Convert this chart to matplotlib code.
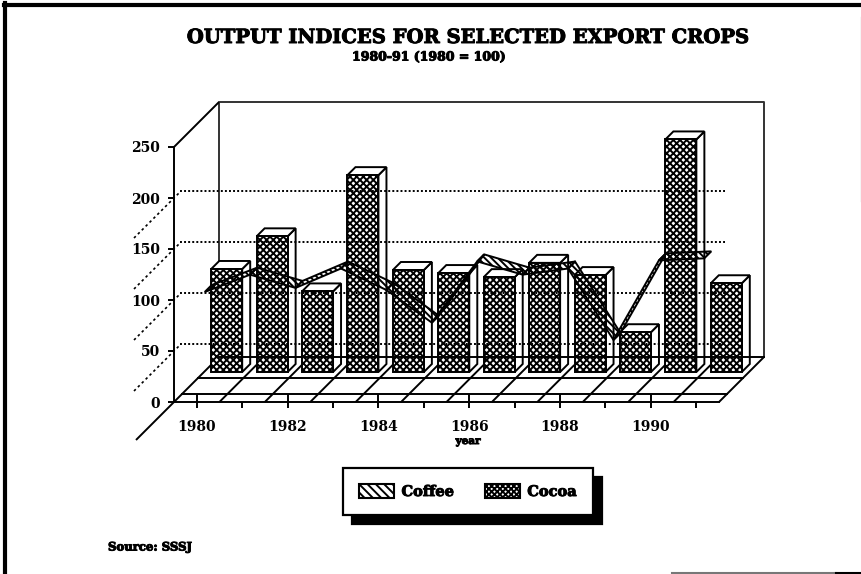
import numpy as np
import matplotlib
matplotlib.use('Agg')
import matplotlib.pyplot as plt
import matplotlib.patheffects as pe
from matplotlib.patches import Patch
from matplotlib.lines import Line2D

years = [1980, 1981, 1982, 1983, 1984, 1985, 1986, 1987, 1988, 1989, 1990, 1991]
coffee = [100, 117, 104, 123, 102, 70, 130, 117, 123, 53, 131, 133]
cocoa = [101, 133, 79, 193, 100, 97, 93, 107, 95, 39, 228, 87]
yticks = [0, 50, 100, 150, 200, 250]

W, H = 862, 574
# front face of the box in pixels, everything else hangs off this
X0, X1, Y0, Y250 = 174, 719, 402, 147
PX_X = (X1 - X0) / 12
PX_Y = (Y0 - Y250) / 250
WALL = 45
BAR_D = 30
COFFEE_D = 8
TOP_D = 8
RIB_D = 7
LW = 1.4

plt.rcParams['font.family'] = ['DejaVu Serif']
plt.rcParams['font.weight'] = 'bold'
plt.rcParams['hatch.linewidth'] = 1.4

fig = plt.figure(figsize=(W / 100, H / 100), dpi=100)
ax = fig.add_axes([X0 / W, 1 - Y0 / H, (X1 - X0) / W, (Y0 - Y250) / H])
ax.set_xlim(-0.5, 11.5)
ax.set_ylim(0, 250)
ax.patch.set_alpha(0)
heavy = [pe.withStroke(linewidth=0.7, foreground='k')]


def dx(d):
    return d / PX_X


def dy(d):
    return d / PX_Y


def seg(x, v, d0, d1, **kw):
    # line running back into the box, d0 and d1 are depths in px
    ax.plot([x + dx(d0), x + dx(d1)], [v + dy(d0), v + dy(d1)], color='k',
            clip_on=False, solid_capstyle='butt', **kw)


x = np.arange(len(years))
xl, xr = -0.5, 11.5

# back wall
ax.plot([xl + dx(WALL), xl + dx(WALL), xr + dx(WALL), xr + dx(WALL)],
        [dy(WALL), 250 + dy(WALL), 250 + dy(WALL), dy(WALL)],
        color='#333333', lw=LW, clip_on=False, zorder=1)

# floor
for d in [8, 24]:
    ax.plot([xl + dx(d), xr + dx(d)], [dy(d), dy(d)], color='k', lw=LW, clip_on=False, zorder=1)
for b in np.arange(0.5, 11, 1):
    seg(b, 0, 0, 37, lw=LW, zorder=1)
seg(xl, 0, -38, WALL, lw=LW, zorder=1)
seg(xr, 0, 0, WALL, lw=LW, zorder=1)
seg(xl, 250, 0, WALL, lw=LW, zorder=1)

# cocoa bars, side and top faces first
bar_w = 31 / PX_X
base = dy(BAR_D)
bar_x = x + dx(BAR_D)
for bx, val in zip(bar_x, cocoa):
    l, r = bx - bar_w / 2, bx + bar_w / 2
    top = base + val
    ax.fill([r, r + dx(TOP_D), r + dx(TOP_D), r], [base, base + dy(TOP_D), top + dy(TOP_D), top],
            fc='white', ec='k', lw=LW, clip_on=False, zorder=2)
    ax.fill([l, r, r + dx(TOP_D), l + dx(TOP_D)], [top, top, top + dy(TOP_D), top + dy(TOP_D)],
            fc='white', ec='k', lw=LW, clip_on=False, zorder=2)
ax.bar(bar_x, cocoa, width=bar_w, bottom=base, fc='white', ec='k', lw=LW,
       hatch='xxxxx', clip_on=False, zorder=3)

# dotted grid sits over the bars, same for the back floor line
for v in yticks[1:-1]:
    ax.plot([xl + dx(6), xr + dx(6)], [v + dy(7), v + dy(7)], color='k', lw=1.4, ls=(0, (1, 1.1)),
            clip_on=False, zorder=4)
    seg(xl, v, -40, 5, lw=1.2, ls=(0, (1.5, 1.8)), zorder=1)
ax.plot([xl + dx(WALL), xr + dx(WALL)], [dy(WALL), dy(WALL)], color='k', lw=LW, clip_on=False, zorder=4)

# coffee ribbon, left see-through so the bars darken it
rib_x = x + dx(COFFEE_D)
rib_y = np.array(coffee) + dy(COFFEE_D)
for i in range(len(x) - 1):
    ax.fill([rib_x[i], rib_x[i + 1], rib_x[i + 1] + dx(RIB_D), rib_x[i] + dx(RIB_D)],
            [rib_y[i], rib_y[i + 1], rib_y[i + 1] + dy(RIB_D), rib_y[i] + dy(RIB_D)],
            fc='none', ec='k', lw=LW, hatch='\\\\\\\\\\', clip_on=False, zorder=5)

for s in ['top', 'right']:
    ax.spines[s].set_visible(False)
ax.spines['left'].set_linewidth(LW)
ax.spines['bottom'].set_linewidth(LW)
ax.set_yticks(yticks)
ax.set_xticks(x)
ax.set_xticklabels([str(y) if i % 2 == 0 else '' for i, y in enumerate(years)])
ax.tick_params(axis='both', labelsize=10, width=LW, length=4, pad=6)
ax.tick_params(axis='x', pad=9)
ax.vlines(x[::2], 0, dy(8), color='k', lw=LW, zorder=1)
ax.set_xlabel('year', fontsize=7.5, fontweight='bold', path_effects=heavy)
ax.xaxis.set_label_coords((468 - X0) / (X1 - X0), (Y0 - 437) / (Y0 - Y250))

fig.text(468 / W, 1 - 37 / H, 'OUTPUT INDICES FOR SELECTED EXPORT CROPS', ha='center', va='center',
         fontsize=14.05, fontweight='bold', path_effects=heavy)
fig.text(429 / W, 1 - 57 / H, '1980-91 (1980 = 100)', ha='center', va='center', fontsize=9,
         fontweight='bold', path_effects=heavy)
fig.text(108 / W, 1 - 547 / H, 'Source: SSSJ', ha='left', va='center', fontsize=8.4, fontweight='bold',
         path_effects=heavy)

handles = [Patch(fc='white', ec='k', lw=1.5, hatch='\\\\\\\\'), Patch(fc='white', ec='k', lw=1.5, hatch='xxxxxx')]
leg = fig.legend(handles, ['Coffee', 'Cocoa'], loc='center', bbox_to_anchor=(468 / W, 1 - 491.5 / H), ncol=2,
                 fontsize=10.5, fancybox=False, edgecolor='k', framealpha=1, handlelength=2.4,
                 handleheight=1.1, handletextpad=0.5, columnspacing=2.1, borderpad=1.1, borderaxespad=0,
                 shadow={'ox': 6.5, 'oy': -6.5, 'color': 'k', 'alpha': 1})
leg.get_frame().set_linewidth(1.6)
for t in leg.get_texts():
    t.set_path_effects(heavy)

# scanned page edge
for xs, ys, c, lw in [([0.006, 0.006], [0, 0.995], 'k', 3), ([0.005, 1], [0.992, 0.992], 'k', 3),
                      ([0.78, 0.97], [0.002, 0.002], '#777777', 1.5), ([0.97, 1], [0.002, 0.002], 'k', 1.5),
                      ([0.9985, 0.9985], [0.65, 0.97], '#cccccc', 1)]:
    fig.add_artist(Line2D(xs, ys, color=c, lw=lw))

fig.savefig('out.png', dpi=100)
